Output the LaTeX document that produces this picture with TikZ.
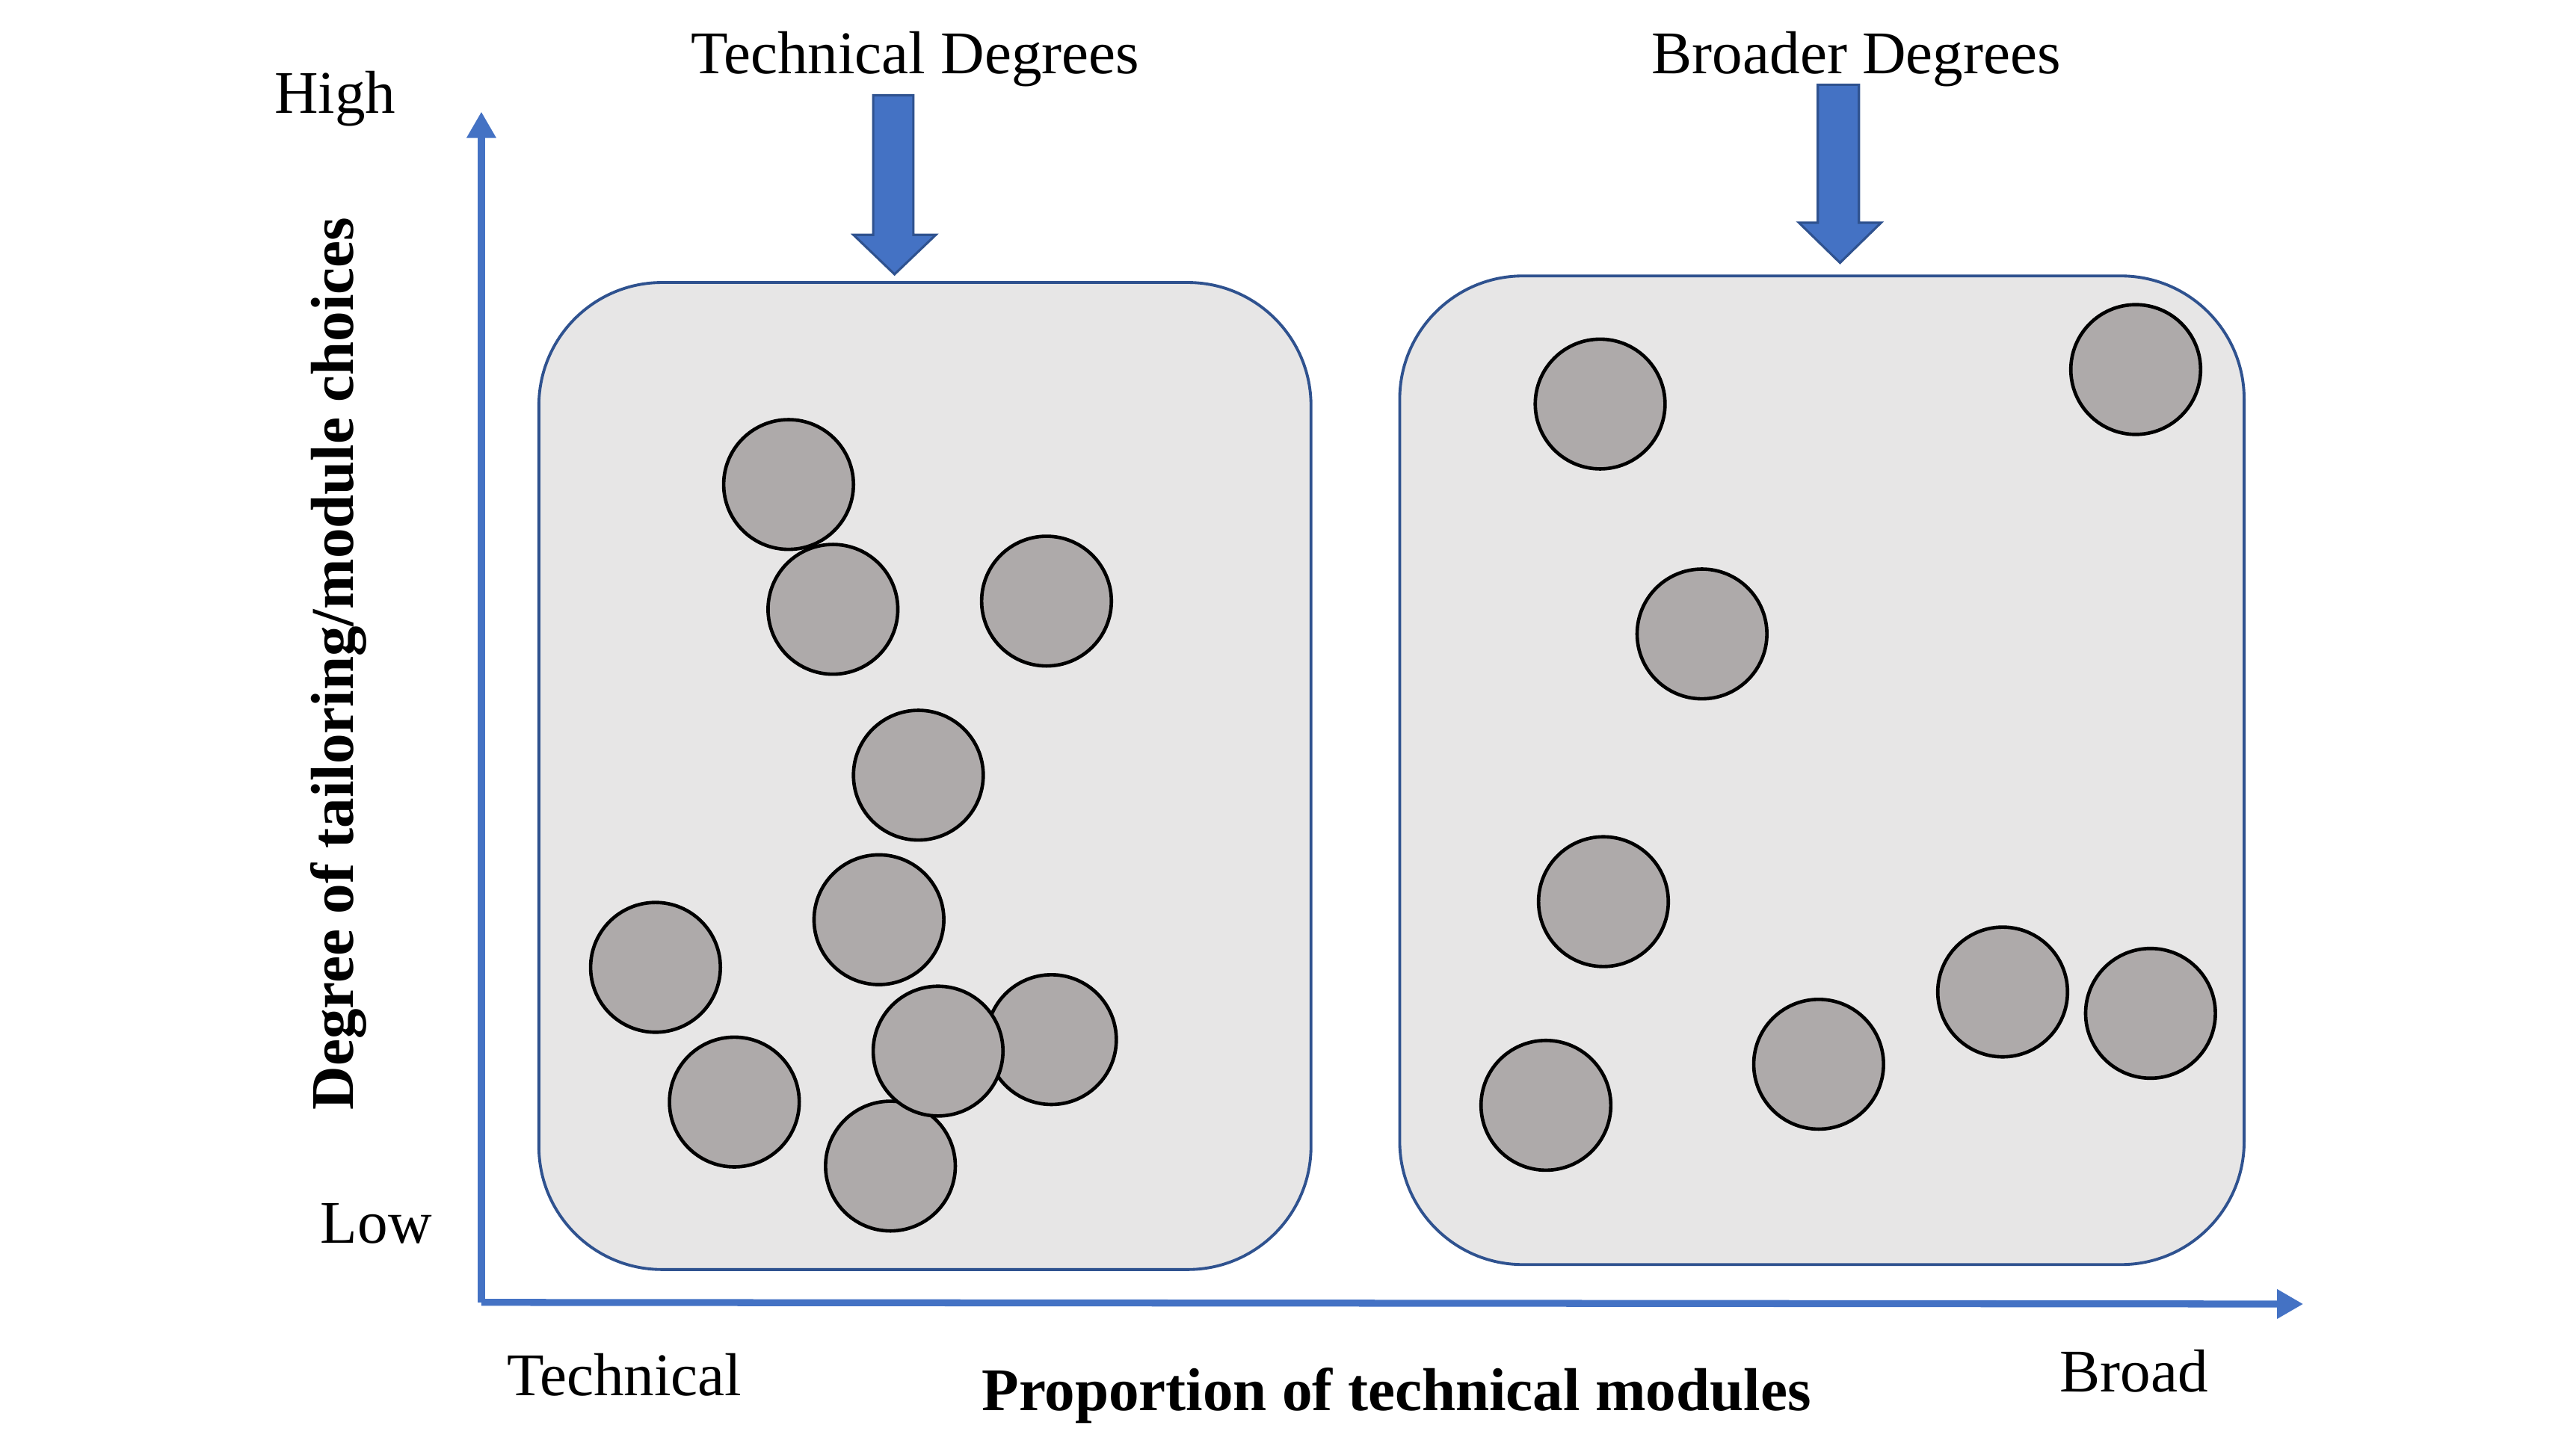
\documentclass[tikz,border=0pt]{standalone}
\usepackage{fontspec}
\setmainfont{Liberation Serif}
\usepackage{xcolor}
\usetikzlibrary{arrows.meta,positioning}
\definecolor{axisblue}{HTML}{4472C4}
\definecolor{edgeblue}{HTML}{2F528F}
\definecolor{panelgrey}{HTML}{E7E6E6}
\definecolor{dotgrey}{HTML}{AEAAAA}

\begin{document}
\begin{tikzpicture}[
  x=0.1mm, y=-0.1mm,
  panel/.style={draw=edgeblue, line width=0.5pt, fill=panelgrey, rounded corners=7.5mm, inner sep=0pt},
  module/.style={circle, draw=black, line width=0.6pt, fill=dotgrey, minimum size=7.9mm, inner sep=0pt},
  axis/.style={draw=axisblue, line width=1.2pt, -{Triangle[length=1.6mm,width=1.7mm]}},
  pointer/.style={draw=edgeblue, line width=0.4pt, fill=axisblue},
  label/.style={font=\fontsize{10.5}{12}\selectfont, inner sep=0pt},
  axislabel/.style={font=\fontsize{10.5}{12}\selectfont\bfseries, inner sep=0pt}
]
\useasboundingbox (0,0) rectangle (1568,882);

% panels
\node[panel, minimum width=47mm, minimum height=60.1mm] (techpanel) at (563,472.5) {};
\node[panel, minimum width=51.4mm, minimum height=60.2mm] (broadpanel) at (1109,469) {};

% axes
\coordinate (origin) at (293,793);
\coordinate (ytop) at (293,68);
\coordinate (xend) at (1402,794);
\draw[axis] (origin) -- (ytop);
\draw[axis] (origin) -- (xend);

% degree groups
\node[label] (techtitle) at (557,36) {Technical Degrees};
\node[label] (broadtitle) at (1130,36) {Broader Degrees};
\draw[pointer] (531.5,58) -- (556,58) -- (556,143) -- (569.6,143) -- (544.5,167)
  -- (519.5,143) -- (531.5,143) -- cycle;
\draw[pointer] (1106.5,51.6) -- (1131.5,51.6) -- (1131.5,135.6) -- (1145,135.6) -- (1120,160)
  -- (1095,135.6) -- (1106.5,135.6) -- cycle;

% modules, technical degrees
\foreach \px/\py [count=\i] in {480/295, 507/371, 637/366, 559/472, 535/560, 399/589,
  447/671, 640/633, 542/710, 571/640}
  \node[module] (tech\i) at (\px,\py) {};

% modules, broader degrees
\foreach \px/\py [count=\i] in {974/246, 1300/225, 1036/386, 976/549, 941/673,
  1107/648, 1219/604, 1309/617}
  \node[module] (broad\i) at (\px,\py) {};

% axis labels
\node[label] (high) at (204,60) {High};
\node[label] (low) at (229,745) {Low};
\node[label] (technical) at (380,837) {Technical};
\node[label] (broad) at (1299,835) {Broad};
\node[axislabel] (xlabel) at (850,850) {Proportion of technical modules};
\node[axislabel, rotate=90] (ylabel) at (206,404) {Degree of tailoring/module choices};
\end{tikzpicture}
\end{document}
